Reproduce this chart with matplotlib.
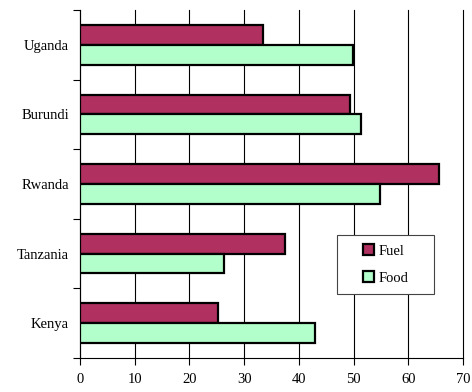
import matplotlib
matplotlib.use("Agg")
import matplotlib.pyplot as plt
from matplotlib.patches import Rectangle
import numpy as np

countries = ["Kenya", "Tanzania", "Rwanda", "Burundi", "Uganda"]
fuel = [25.3, 37.5, 65.7, 49.4, 33.4]
food = [43.0, 26.3, 54.8, 51.3, 49.9]
x_ticks = [0, 10, 20, 30, 40, 50, 60, 70]

plt.rcParams["font.family"] = ["Liberation Serif", "DejaVu Serif"]

W, H = 472, 392
fig = plt.figure(figsize=(W / 100, H / 100), dpi=100)
ax = fig.add_axes([80 / W, 1 - 358 / H, 383 / W, 348 / H])

y = np.arange(len(countries))
h = 0.285
ax.barh(y + h / 2, fuel, height=h, color="#B03060", edgecolor="black",
        linewidth=1.6, label="Fuel", zorder=3)
ax.barh(y - h / 2, food, height=h, color="#B3FFCC", edgecolor="black",
        linewidth=1.6, label="Food", zorder=3)

ax.set_xlim(0, 70)
ax.set_ylim(-0.5, len(countries) - 0.5)
ax.set_xticks(x_ticks)
ax.set_xticklabels([str(t) for t in x_ticks], fontsize=10.5)
ax.set_yticks(y)
ax.set_yticklabels(countries, fontsize=10.5)
ax.set_yticks(np.arange(-0.5, len(countries)), minor=True)
ax.tick_params(axis="y", which="major", length=0, pad=8)
ax.tick_params(axis="y", which="minor", length=5, direction="out", width=0.8)
ax.tick_params(axis="x", length=5, direction="out", width=0.8, pad=6)

ax.xaxis.grid(True, color="black", linewidth=0.8, zorder=0)
for gl in ax.get_xgridlines():
    gl.set_clip_on(False)
ax.set_axisbelow(True)
for side in ("top", "right"):
    ax.spines[side].set_visible(False)
ax.spines["left"].set_linewidth(0.8)
ax.spines["bottom"].set_linewidth(0.8)

# legend box
bx0, bx1, by0, by1 = 337, 434, 235, 294
fig.patches.append(Rectangle((bx0 / W, 1 - by1 / H), (bx1 - bx0) / W, (by1 - by0) / H,
                             transform=fig.transFigure, facecolor="white",
                             edgecolor="#444444", linewidth=0.8, zorder=5))
leg = fig.legend(loc="center", bbox_to_anchor=((bx0 + bx1) / 2 / W, 1 - (by0 + by1) / 2 / H),
                 fontsize=10.5, frameon=False,
                 handlelength=0.75, handleheight=0.75, handletextpad=0.3,
                 borderpad=0, labelspacing=0.95, borderaxespad=0)
leg.set_zorder(6)

fig.savefig("out.png", dpi=100)
